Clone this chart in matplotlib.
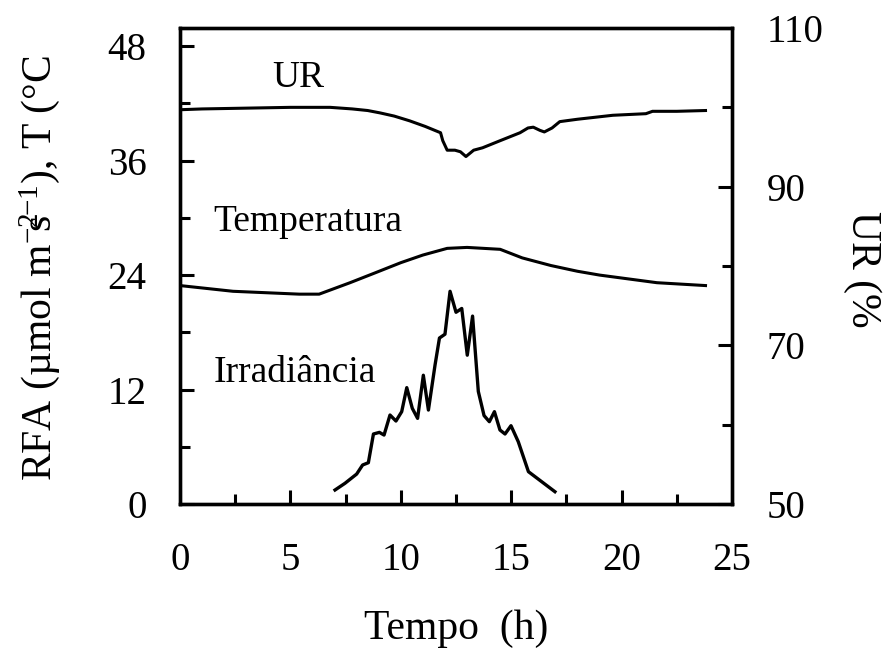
import matplotlib
matplotlib.use("Agg")
import matplotlib.pyplot as plt
from matplotlib.ticker import MultipleLocator

plt.rcParams['font.family'] = ['Liberation Serif', 'DejaVu Serif']
plt.rcParams['mathtext.fontset'] = 'custom'
plt.rcParams['mathtext.rm'] = 'Liberation Serif'
plt.rcParams['mathtext.it'] = 'Liberation Serif:italic'

# UR (%) - eixo da direita
ur_h = [0, 1, 3, 5, 6.8, 7.8, 8.5, 9.06, 9.7, 10.4, 11.1, 11.8, 11.9, 12.1, 12.45, 12.7,
        12.95, 13.3, 13.7, 14.5, 15.4, 15.76, 16.0, 16.3, 16.5, 16.85, 17.2, 18.0,
        19.6, 21.1, 21.4, 22.5, 23.8]
ur_v = [99.7, 99.8, 99.9, 100.0, 100.0, 99.8, 99.6, 99.3, 98.9, 98.3, 97.6, 96.8, 95.8,
        94.6, 94.6, 94.4, 93.8, 94.6, 94.9, 95.8, 96.8, 97.4, 97.5, 97.1, 96.9, 97.4,
        98.2, 98.5, 99.0, 99.2, 99.5, 99.5, 99.6]

# Temperatura (°C)
t_h = [0, 2.4, 5.4, 6.3, 7.7, 8.8, 10.0, 11.0, 12.1, 13.0, 14.5, 15.5, 16.8, 18.0,
       19.0, 20.3, 21.6, 23.8]
t_v = [22.9, 22.3, 22.0, 22.0, 23.2, 24.2, 25.3, 26.1, 26.8, 26.9, 26.7, 25.8, 25.0,
       24.4, 24.0, 23.6, 23.2, 22.9]

# Irradiancia
irr_h = [7.02, 7.47, 8.0, 8.27, 8.53, 8.76, 9.03, 9.24, 9.51, 9.78, 10.04, 10.27, 10.52,
         10.76, 11.02, 11.25, 11.55, 11.75, 12.0, 12.23, 12.5, 12.76, 13.01, 13.25, 13.51,
         13.77, 14.01, 14.24, 14.49, 14.72, 14.99, 15.32, 15.78, 16.38, 16.98]
irr_v = [1.47, 2.17, 3.14, 4.09, 4.33, 7.34, 7.51, 7.23, 9.33, 8.7, 9.68, 12.2, 10.03,
         8.98, 13.5, 9.85, 14.57, 17.4, 17.8, 22.3, 20.1, 20.5, 15.6, 19.7, 11.8,
         9.27, 8.63, 9.68, 7.76, 7.34, 8.21, 6.53, 3.39, 2.34, 1.29]

left_ticks = [0, 12, 24, 36, 48]
right_ticks = [50, 70, 90, 110]
x_ticks = [0, 5, 10, 15, 20, 25]

fig = plt.figure(figsize=(8.89, 6.5), dpi=100)
ax = fig.add_axes([0.2025, 0.2246, 0.6209, 0.7323])
ax2 = ax.twinx()

ax.plot(t_h, t_v, color='black', lw=2.2)
ax.plot(irr_h, irr_v, color='black', lw=2.4)
ax2.plot(ur_h, ur_v, color='black', lw=2.2)

ax.set_xlim(0, 25)
ax.set_ylim(0, 49.9)
ax2.set_ylim(50, 110)

ax.set_xticks(x_ticks)
ax.set_yticks(left_ticks)
ax2.set_yticks(right_ticks)
ax.xaxis.set_minor_locator(MultipleLocator(2.5))
ax.yaxis.set_minor_locator(MultipleLocator(6))
ax2.yaxis.set_minor_locator(MultipleLocator(10))

for a in (ax, ax2):
    a.tick_params(which='major', direction='in', length=10, width=2.2, labelsize=28)
    a.tick_params(which='minor', direction='in', length=7, width=2.2)
    for s in a.spines.values():
        s.set_linewidth(2.4)
ax.tick_params(axis='y', pad=24)
ax.tick_params(axis='x', pad=27)
ax2.tick_params(axis='y', pad=25)

ax.text(5.35, 44.7, 'UR', fontsize=27, ha='center', va='center')
ax.text(1.5, 29.6, 'Temperatura', fontsize=27, ha='left', va='center')
ax.text(1.5, 13.8, 'Irradiância', fontsize=27, ha='left', va='center')

ax.set_xlabel('Tempo  (h)', fontsize=30, labelpad=22)
fig.text(0.045, 0.588, r'RFA (µmol m$^{-2}\!\!\!\!$s$^{-1}$), T (°C', fontsize=30,
         rotation=90, ha='center', va='center')
fig.text(0.970, 0.586, 'UR (%', fontsize=30, rotation=270, ha='center', va='center')

fig.savefig('out.png', dpi=100)
